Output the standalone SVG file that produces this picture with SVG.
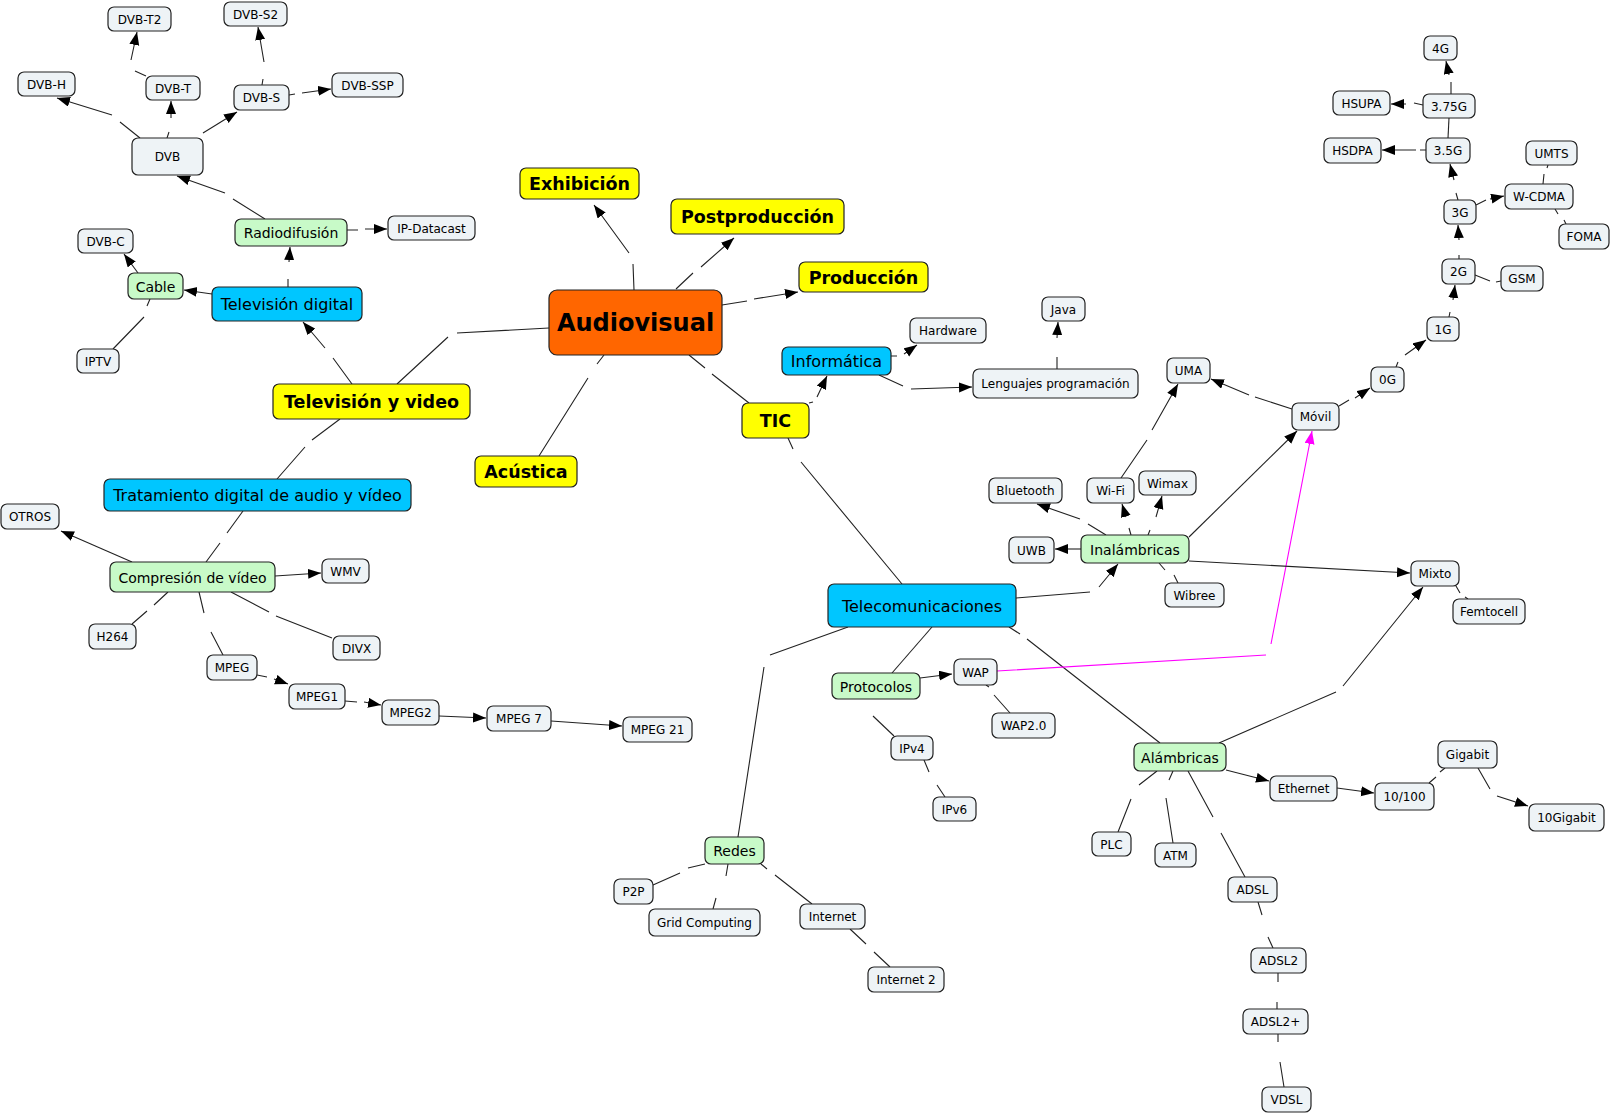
<svg xmlns="http://www.w3.org/2000/svg" width="1612" height="1114" viewBox="0 0 1612 1114">
<defs>
<marker id="ar" markerUnits="userSpaceOnUse" markerWidth="14" markerHeight="11" refX="13" refY="5" orient="auto"><path d="M0,0 L13,5 L0,10 z" fill="#000"/></marker>
<marker id="arm" markerUnits="userSpaceOnUse" markerWidth="14" markerHeight="11" refX="13" refY="5" orient="auto"><path d="M0,0 L13,5 L0,10 z" fill="#FF00FF"/></marker>
<style>
text{font-family:Verdana,"DejaVu Sans",sans-serif;text-anchor:middle;dominant-baseline:central;fill:#000}
g rect{stroke:#222;stroke-width:1.2}
.g rect{fill:#EEF3F6}
.g text{font-size:12px}
.gr rect{fill:#C8FAC8}
.gr text{font-size:14px}
.b rect{fill:#00C6FF}
.b text{font-size:16px}
.y rect{fill:#FFFF00}
.y text{font-size:17.5px;font-weight:bold}
.o rect{fill:#FF6600}
.o text{font-size:24px;font-weight:bold}
#edges path{fill:none;stroke:#222;stroke-width:1.1}
#edges path.a{marker-end:url(#ar)}
#edges path.m{stroke:#FF00FF;marker-end:url(#arm)}
</style>
</defs>
<rect x="0" y="0" width="1612" height="1114" style="fill:#fff;stroke:none"/>
<g id="edges">
<path class="a" d="M634,290 L633,264 M629,253 L594,205"/>
<path class="a" d="M676,289 L693,273 M701,267 L734,238"/>
<path class="a" d="M722,305 L747,301 M754,299 L798,292"/>
<path d="M549,328 L457,333 M448,337 L397,384"/>
<path d="M604,355 L597,364 M588,378 L539,456"/>
<path d="M689,355 L705,368 M712,374 L749,403"/>
<path class="a" d="M352,384 L333,358 M325,348 L303,322"/>
<path d="M340,419 L312,440 M305,447 L277,479"/>
<path class="a" d="M288,287 L288,279 M289,262 L290,247"/>
<path class="a" d="M212,294 L184,290"/>
<path class="a" d="M138,273 L124,254"/>
<path d="M150,299 L147,306 M144,317 L113,349"/>
<path class="a" d="M265,219 L233,199 M225,193 L177,176"/>
<path class="a" d="M347,230 L358,230 M365,229 L387,229"/>
<path class="a" d="M140,138 L120,122 M112,115 L57,98"/>
<path class="a" d="M167,138 L169,132 M171,118 L171,101"/>
<path class="a" d="M203,133 L237,112"/>
<path class="a" d="M146,76 L135,71 M131,60 L137,32"/>
<path class="a" d="M262,85 L263,79 M264,62 L258,27"/>
<path class="a" d="M289,95 L295,94 M302,93 L331,89"/>
<path d="M243,511 L227,533 M220,543 L206,562"/>
<path class="a" d="M132,562 L61,531"/>
<path class="a" d="M275,576 L321,573"/>
<path d="M168,592 L154,605 M147,611 L132,624"/>
<path d="M199,592 L204,613 M211,632 L223,655"/>
<path d="M231,592 L269,612 M276,616 L332,638"/>
<path class="a" d="M257,675 L267,677 M274,679 L288,684"/>
<path class="a" d="M345,701 L357,702 M364,702 L381,705"/>
<path class="a" d="M439,716 L486,718"/>
<path class="a" d="M551,721 L622,726"/>
<path class="a" d="M809,403 L813,402 M817,397 L827,376"/>
<path d="M788,438 L793,449 M801,462 L902,584"/>
<path class="a" d="M891,356 L897,356 M904,354 L917,345"/>
<path class="a" d="M879,375 L903,386 M911,389 L972,387"/>
<path class="a" d="M1057,369 L1057,357 M1057,338 L1058,322"/>
<path class="a" d="M1016,598 L1090,592 M1099,587 L1118,564"/>
<path d="M848,627 L770,655 M764,667 L738,837"/>
<path d="M932,627 L892,673"/>
<path d="M1009,627 L1020,634 M1027,639 L1160,743"/>
<path class="a" d="M920,678 L952,674"/>
<path d="M873,716 L894,736"/>
<path d="M986,685 L989,687 M994,695 L1010,713"/>
<path d="M924,760 L929,772 M937,785 L945,797"/>
<path class="m" d="M997,671 L1266,655 M1271,644 L1312,431"/>
<path d="M705,864 L688,868 M680,873 L653,885"/>
<path d="M728,864 L726,876 M716,898 L713,909"/>
<path d="M761,864 L767,869 M775,875 L812,904"/>
<path d="M850,929 L866,944 M874,952 L890,967"/>
<path class="a" d="M1106,535 L1088,524 M1080,519 L1037,504"/>
<path class="a" d="M1131,535 L1129,528 M1126,517 L1122,504"/>
<path class="a" d="M1148,535 L1150,530 M1156,517 L1162,496"/>
<path class="a" d="M1081,549 L1055,549"/>
<path d="M1159,563 L1165,570 M1174,575 L1178,583"/>
<path class="a" d="M1189,537 L1297,431"/>
<path class="a" d="M1189,561 L1410,573"/>
<path class="a" d="M1121,478 L1147,440 M1152,430 L1178,384"/>
<path class="a" d="M1292,409 L1255,397 M1249,395 L1211,379"/>
<path class="a" d="M1339,406 L1349,400 M1355,398 L1370,388"/>
<path class="a" d="M1396,367 L1398,362 M1405,355 L1426,340"/>
<path class="a" d="M1449,317 L1450,312 M1453,300 L1455,285"/>
<path class="a" d="M1459,259 L1459,255 M1459,240 L1458,225"/>
<path class="a" d="M1458,200 L1456,193 M1454,180 L1450,164"/>
<path d="M1448,138 L1449,118"/>
<path class="a" d="M1451,94 L1451,82 M1449,75 L1446,61"/>
<path class="a" d="M1423,105 L1414,103 M1406,104 L1391,104"/>
<path class="a" d="M1426,150 L1420,150 M1416,150 L1382,150"/>
<path class="a" d="M1476,205 L1486,200 M1490,199 L1504,196"/>
<path d="M1475,275 L1490,281 M1496,282 L1501,281"/>
<path d="M1543,184 L1544,174 M1547,168 L1548,165"/>
<path d="M1555,209 L1558,214 M1564,220 L1566,224"/>
<path d="M1456,586 L1460,593 M1465,597 L1468,599"/>
<path class="a" d="M1219,743 L1336,692 M1343,686 L1423,587"/>
<path class="a" d="M1226,770 L1269,781"/>
<path class="a" d="M1337,788 L1374,793"/>
<path d="M1429,783 L1436,777 M1440,772 L1445,768"/>
<path class="a" d="M1478,768 L1490,789 M1497,796 L1528,806"/>
<path d="M1157,771 L1139,785 M1131,799 L1118,832"/>
<path d="M1173,771 L1169,780 M1166,798 L1173,843"/>
<path d="M1188,771 L1213,817 M1221,833 L1245,877"/>
<path d="M1258,902 L1262,915 M1268,937 L1273,948"/>
<path d="M1278,973 L1278,982 M1277,1002 L1277,1009"/>
<path d="M1278,1034 L1278,1042 M1280,1062 L1284,1087"/>
</g>
<g id="n-audiovisual" class="o"><rect x="549" y="290" width="173" height="65" rx="8"/><text x="635.5" y="323">Audiovisual</text></g>
<g id="n-exhibicion" class="y"><rect x="520" y="168" width="119" height="31" rx="6"/><text x="579.5" y="184">Exhibición</text></g>
<g id="n-postproduccion" class="y"><rect x="671" y="199" width="173" height="35" rx="6"/><text x="757.5" y="217">Postproducción</text></g>
<g id="n-produccion" class="y"><rect x="799" y="262" width="129" height="30" rx="6"/><text x="863.5" y="277.5">Producción</text></g>
<g id="n-tyv" class="y"><rect x="273" y="384" width="197" height="35" rx="6"/><text x="371.5" y="402">Televisión y video</text></g>
<g id="n-tic" class="y"><rect x="742" y="403" width="67" height="35" rx="6"/><text x="775.5" y="421">TIC</text></g>
<g id="n-acustica" class="y"><rect x="475" y="456" width="102" height="31" rx="6"/><text x="526" y="472">Acústica</text></g>
<g id="n-tvdigital" class="b"><rect x="212" y="287" width="150" height="34" rx="6"/><text x="287" y="304.5">Televisión digital</text></g>
<g id="n-tratamiento" class="b"><rect x="104" y="479" width="307" height="32" rx="6"/><text x="257.5" y="495.5">Tratamiento digital de audio y vídeo</text></g>
<g id="n-informatica" class="b"><rect x="782" y="347" width="109" height="28" rx="6"/><text x="836.5" y="361.5">Informática</text></g>
<g id="n-telecom" class="b"><rect x="828" y="584" width="188" height="43" rx="6"/><text x="922" y="606">Telecomunicaciones</text></g>
<g id="n-radiodifusion" class="gr"><rect x="235" y="219" width="112" height="27" rx="6"/><text x="291" y="233">Radiodifusión</text></g>
<g id="n-cable" class="gr"><rect x="128" y="273" width="55" height="26" rx="6"/><text x="155.5" y="286.5">Cable</text></g>
<g id="n-compresion" class="gr"><rect x="110" y="562" width="165" height="30" rx="6"/><text x="192.5" y="577.5">Compresión de vídeo</text></g>
<g id="n-protocolos" class="gr"><rect x="832" y="673" width="88" height="26" rx="6"/><text x="876" y="686.5">Protocolos</text></g>
<g id="n-redes" class="gr"><rect x="705" y="837" width="59" height="27" rx="6"/><text x="734.5" y="851">Redes</text></g>
<g id="n-inalambricas" class="gr"><rect x="1081" y="535" width="108" height="28" rx="6"/><text x="1135" y="549.5">Inalámbricas</text></g>
<g id="n-alambricas" class="gr"><rect x="1134" y="743" width="92" height="28" rx="6"/><text x="1180" y="757.5">Alámbricas</text></g>
<g id="n-dvbt2" class="g"><rect x="108" y="7" width="63" height="24" rx="6"/><text x="139.5" y="19.5">DVB-T2</text></g>
<g id="n-dvbs2" class="g"><rect x="224" y="2" width="63" height="24" rx="6"/><text x="255.5" y="14.5">DVB-S2</text></g>
<g id="n-dvbh" class="g"><rect x="18" y="72" width="57" height="24" rx="6"/><text x="46.5" y="84.5">DVB-H</text></g>
<g id="n-dvbt" class="g"><rect x="146" y="76" width="54" height="24" rx="6"/><text x="173" y="88.5">DVB-T</text></g>
<g id="n-dvbs" class="g"><rect x="234" y="85" width="55" height="25" rx="6"/><text x="261.5" y="98">DVB-S</text></g>
<g id="n-dvbssp" class="g"><rect x="332" y="73" width="71" height="24" rx="6"/><text x="367.5" y="85.5">DVB-SSP</text></g>
<g id="n-dvb" class="g"><rect x="132" y="138" width="71" height="37" rx="6"/><text x="167.5" y="157">DVB</text></g>
<g id="n-ipdatacast" class="g"><rect x="388" y="216" width="87" height="24" rx="6"/><text x="431.5" y="228.5">IP-Datacast</text></g>
<g id="n-dvbc" class="g"><rect x="78" y="229" width="55" height="24" rx="6"/><text x="105.5" y="241.5">DVB-C</text></g>
<g id="n-iptv" class="g"><rect x="77" y="349" width="42" height="24" rx="6"/><text x="98" y="361.5">IPTV</text></g>
<g id="n-otros" class="g"><rect x="1" y="504" width="58" height="25" rx="6"/><text x="30" y="517">OTROS</text></g>
<g id="n-wmv" class="g"><rect x="322" y="559" width="47" height="24" rx="6"/><text x="345.5" y="571.5">WMV</text></g>
<g id="n-h264" class="g"><rect x="89" y="624" width="47" height="25" rx="6"/><text x="112.5" y="637">H264</text></g>
<g id="n-divx" class="g"><rect x="333" y="636" width="47" height="24" rx="6"/><text x="356.5" y="648.5">DIVX</text></g>
<g id="n-mpeg" class="g"><rect x="207" y="655" width="50" height="25" rx="6"/><text x="232" y="668">MPEG</text></g>
<g id="n-mpeg1" class="g"><rect x="289" y="684" width="56" height="25" rx="6"/><text x="317" y="697">MPEG1</text></g>
<g id="n-mpeg2" class="g"><rect x="382" y="700" width="57" height="25" rx="6"/><text x="410.5" y="713">MPEG2</text></g>
<g id="n-mpeg7" class="g"><rect x="487" y="706" width="64" height="25" rx="6"/><text x="519" y="719">MPEG 7</text></g>
<g id="n-mpeg21" class="g"><rect x="623" y="717" width="69" height="25" rx="6"/><text x="657.5" y="730">MPEG 21</text></g>
<g id="n-hardware" class="g"><rect x="910" y="318" width="76" height="25" rx="6"/><text x="948" y="331">Hardware</text></g>
<g id="n-java" class="g"><rect x="1042" y="297" width="43" height="24" rx="6"/><text x="1063.5" y="309.5">Java</text></g>
<g id="n-lenguajes" class="g"><rect x="973" y="369" width="165" height="29" rx="6"/><text x="1055.5" y="384">Lenguajes programación</text></g>
<g id="n-uma" class="g"><rect x="1167" y="358" width="43" height="25" rx="6"/><text x="1188.5" y="371">UMA</text></g>
<g id="n-movil" class="g"><rect x="1292" y="403" width="47" height="27" rx="6"/><text x="1315.5" y="417">Móvil</text></g>
<g id="n-0g" class="g"><rect x="1371" y="367" width="33" height="25" rx="6"/><text x="1387.5" y="380">0G</text></g>
<g id="n-1g" class="g"><rect x="1427" y="317" width="32" height="24" rx="6"/><text x="1443" y="329.5">1G</text></g>
<g id="n-2g" class="g"><rect x="1442" y="259" width="33" height="25" rx="6"/><text x="1458.5" y="272">2G</text></g>
<g id="n-gsm" class="g"><rect x="1501" y="266" width="42" height="25" rx="6"/><text x="1522" y="279">GSM</text></g>
<g id="n-3g" class="g"><rect x="1444" y="200" width="32" height="24" rx="6"/><text x="1460" y="212.5">3G</text></g>
<g id="n-wcdma" class="g"><rect x="1505" y="184" width="68" height="25" rx="6"/><text x="1539" y="197">W-CDMA</text></g>
<g id="n-umts" class="g"><rect x="1526" y="141" width="51" height="24" rx="6"/><text x="1551.5" y="153.5">UMTS</text></g>
<g id="n-foma" class="g"><rect x="1559" y="224" width="50" height="25" rx="6"/><text x="1584" y="237">FOMA</text></g>
<g id="n-35g" class="g"><rect x="1426" y="138" width="44" height="25" rx="6"/><text x="1448" y="151">3.5G</text></g>
<g id="n-hsdpa" class="g"><rect x="1324" y="138" width="57" height="25" rx="6"/><text x="1352.5" y="151">HSDPA</text></g>
<g id="n-375g" class="g"><rect x="1423" y="94" width="52" height="24" rx="6"/><text x="1449" y="106.5">3.75G</text></g>
<g id="n-hsupa" class="g"><rect x="1333" y="91" width="57" height="24" rx="6"/><text x="1361.5" y="103.5">HSUPA</text></g>
<g id="n-4g" class="g"><rect x="1424" y="36" width="33" height="24" rx="6"/><text x="1440.5" y="48.5">4G</text></g>
<g id="n-bluetooth" class="g"><rect x="989" y="478" width="73" height="25" rx="6"/><text x="1025.5" y="491">Bluetooth</text></g>
<g id="n-wifi" class="g"><rect x="1087" y="478" width="47" height="25" rx="6"/><text x="1110.5" y="491">Wi-Fi</text></g>
<g id="n-wimax" class="g"><rect x="1139" y="471" width="57" height="24" rx="6"/><text x="1167.5" y="483.5">Wimax</text></g>
<g id="n-uwb" class="g"><rect x="1009" y="537" width="45" height="26" rx="6"/><text x="1031.5" y="550.5">UWB</text></g>
<g id="n-wibree" class="g"><rect x="1165" y="583" width="59" height="24" rx="6"/><text x="1194.5" y="595.5">Wibree</text></g>
<g id="n-mixto" class="g"><rect x="1411" y="561" width="48" height="25" rx="6"/><text x="1435" y="574">Mixto</text></g>
<g id="n-femtocell" class="g"><rect x="1453" y="599" width="72" height="25" rx="6"/><text x="1489" y="612">Femtocell</text></g>
<g id="n-wap" class="g"><rect x="954" y="659" width="43" height="26" rx="6"/><text x="975.5" y="672.5">WAP</text></g>
<g id="n-wap20" class="g"><rect x="992" y="713" width="63" height="25" rx="6"/><text x="1023.5" y="726">WAP2.0</text></g>
<g id="n-ipv4" class="g"><rect x="891" y="736" width="42" height="24" rx="6"/><text x="912" y="748.5">IPv4</text></g>
<g id="n-ipv6" class="g"><rect x="933" y="797" width="43" height="24" rx="6"/><text x="954.5" y="809.5">IPv6</text></g>
<g id="n-p2p" class="g"><rect x="614" y="879" width="39" height="25" rx="6"/><text x="633.5" y="892">P2P</text></g>
<g id="n-grid" class="g"><rect x="649" y="909" width="111" height="27" rx="6"/><text x="704.5" y="923">Grid Computing</text></g>
<g id="n-internet" class="g"><rect x="800" y="904" width="65" height="25" rx="6"/><text x="832.5" y="917">Internet</text></g>
<g id="n-internet2" class="g"><rect x="868" y="967" width="76" height="25" rx="6"/><text x="906" y="980">Internet 2</text></g>
<g id="n-ethernet" class="g"><rect x="1270" y="776" width="67" height="25" rx="6"/><text x="1303.5" y="789">Ethernet</text></g>
<g id="n-10100" class="g"><rect x="1375" y="783" width="59" height="27" rx="6"/><text x="1404.5" y="797">10/100</text></g>
<g id="n-gigabit" class="g"><rect x="1438" y="741" width="59" height="27" rx="6"/><text x="1467.5" y="755">Gigabit</text></g>
<g id="n-10gigabit" class="g"><rect x="1529" y="804" width="75" height="27" rx="6"/><text x="1566.5" y="818">10Gigabit</text></g>
<g id="n-plc" class="g"><rect x="1092" y="832" width="39" height="24" rx="6"/><text x="1111.5" y="844.5">PLC</text></g>
<g id="n-atm" class="g"><rect x="1155" y="843" width="41" height="24" rx="6"/><text x="1175.5" y="855.5">ATM</text></g>
<g id="n-adsl" class="g"><rect x="1228" y="877" width="49" height="25" rx="6"/><text x="1252.5" y="890">ADSL</text></g>
<g id="n-adsl2" class="g"><rect x="1251" y="948" width="55" height="25" rx="6"/><text x="1278.5" y="961">ADSL2</text></g>
<g id="n-adsl2p" class="g"><rect x="1243" y="1009" width="65" height="25" rx="6"/><text x="1275.5" y="1022">ADSL2+</text></g>
<g id="n-vdsl" class="g"><rect x="1262" y="1087" width="49" height="25" rx="6"/><text x="1286.5" y="1100">VDSL</text></g>
</svg>
